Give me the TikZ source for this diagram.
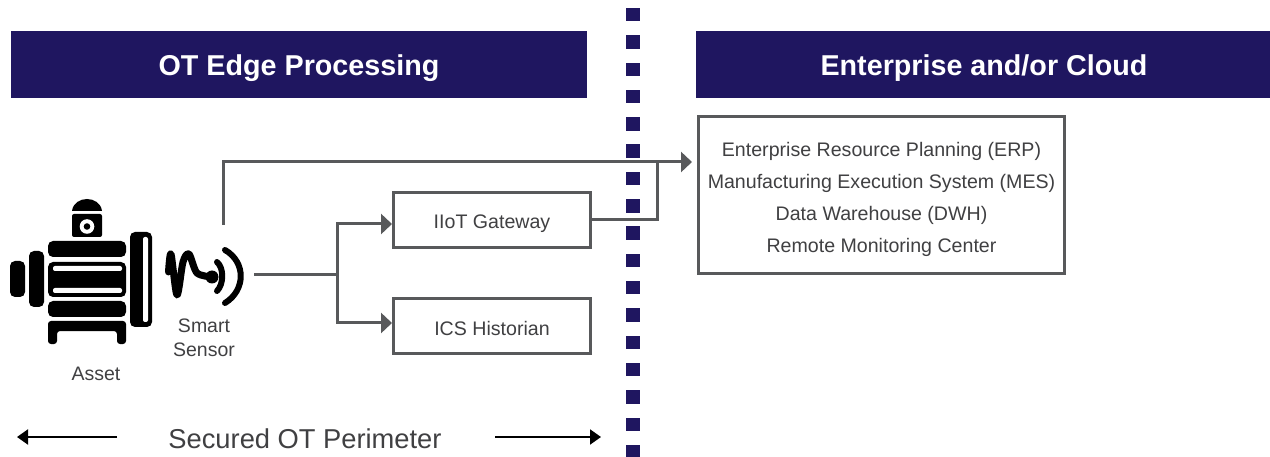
\documentclass[tikz,border=0pt]{standalone}
\usepackage{fontspec}
\setmainfont{Liberation Sans}
\usetikzlibrary{arrows.meta}
\definecolor{navy}{HTML}{1F1660}
\definecolor{wire}{HTML}{58595B}
\definecolor{ink}{HTML}{404042}
\begin{document}
\begin{tikzpicture}%
	[x=1pt, y=-1pt,
	header/.style={text=white, inner sep=0pt, font=\fontsize{28.7}{34}\selectfont\bfseries},
	sysbox/.style={draw=wire, line width=3pt, fill=white, text=ink, inner sep=0pt, align=center, font=\fontsize{19.6}{32}\selectfont},
	caption/.style={text=ink, inner sep=0pt, font=\fontsize{19.5}{24}\selectfont},
	wireline/.style={draw=wire, line width=3pt},
	wirearrow/.style={wireline, -{Triangle[length=11pt, width=20pt]}},
	perimeter/.style={draw=black, line width=2pt, -{Triangle[length=11pt, width=15pt]}},
	metal/.style={fill=black, rounded corners=5pt},
	slot/.style={fill=white, rounded corners=2pt},
	signal/.style={draw=black, line width=6pt, line cap=round, line join=round}]
	%
	\useasboundingbox (0,0) rectangle (1270,457);
	%
	%% Dotted boundary:
	%%
	\foreach \i in {0,...,16}
		\fill[navy] (626,8+27.3*\i) rectangle +(13.5,13.5);
	%%
	%% Headers:
	%%
	\fill[navy] (11,31) rectangle (587,98);
	\fill[navy] (696,31) rectangle (1270,98);
	\node[header] (edgehead) at (299,68) {OT Edge Processing};
	\node[header] (cloudhead) at (984,68) {Enterprise and/or Cloud};
	%%
	%% Boxes:
	%%
	\node[sysbox, minimum width=366pt, minimum height=157pt] (enterprise) at (881.5,195) {\rule{0pt}{22.5pt}Enterprise Resource Planning (ERP)\\Manufacturing Execution System (MES)\\Data Warehouse (DWH)\\Remote Monitoring Center};
	\node[sysbox, minimum width=197pt, minimum height=55pt] (gateway) at (492,220) {\rule{0pt}{22pt}IIoT Gateway};
	\node[sysbox, minimum width=197pt, minimum height=55pt] (historian) at (492,326) {\rule{0pt}{18.5pt}ICS Historian};
	%%
	%% Asset:
	%%
	\fill[metal] (48,241) rectangle (126,257);
	\fill[metal] (48,262) rectangle (126,297);
	\fill[slot] (53,266) rectangle (122,271);
	\fill[slot] (53,288) rectangle (122,293);
	\fill[metal] (48,301) rectangle (126,317);
	\fill[black, rounded corners=3pt] (48,344) -- (48,321) -- (126,321) -- (126,344) -- (117,344) -- (117,331) -- (57,331) -- (57,344) -- cycle;
	\fill[metal] (29,251) rectangle (44,307);
	\fill[metal] (10,261) rectangle (25,297);
	\fill[metal] (130,232) rectangle (152,327);
	\fill[slot] (143,237) rectangle (148,322);
	\fill[black, rounded corners=2pt] (72,214) rectangle (102,237);
	\fill[white] (87,226.5) circle (7.3);
	\fill[black] (87,226.5) circle (3.3);
	\fill[black] (72,211) .. controls (73,203) and (80,199) .. (87,199) .. controls (94,199) and (101,203) .. (102,211) -- cycle;
	%%
	%% Sensor:
	%%
	\draw[signal, line width=7pt] plot[smooth, tension=0.5] coordinates {(168.5,272) (171,254) (177,295) (183,262) (189,254) (197,273) (212,277)};
	\fill[black] (212,277) circle (6.5);
	\draw[signal] (217,262) .. controls (224,268) and (224,284) .. (217,291);
	\draw[signal] (225,250) .. controls (246,262) and (246,290) .. (225,303);
	%%
	%% Labels:
	%%
	\node[caption] (smart) at (204,326) {Smart};
	\node[caption] (sensor) at (204,350) {Sensor};
	\node[caption] (asset) at (96,374) {Asset};
	\node[text=ink, inner sep=0pt, font=\fontsize{27.3}{32}\selectfont] (secured) at (305,439) {Secured OT Perimeter};
	%%
	%% Connectors:
	%%
	\coordinate (sensorup) at (223,225);
	\coordinate (sensorout) at (254,275);
	\coordinate (branch) at (337,275);
	\coordinate (cloudin) at (692,162);
	\coordinate (perimleft) at (117,437);
	\coordinate (perimleftend) at (17,437);
	\coordinate (perimright) at (495,437);
	\coordinate (perimrightend) at (601,437);
	%%
	\draw[wirearrow] (sensorup) |- (cloudin);
	\draw[wireline] (gateway.east) -| (657,162);
	\draw[wireline] (sensorout) -- (branch);
	\draw[wirearrow] (branch) |- ([yshift=-4pt]gateway.west);
	\draw[wirearrow] (branch) |- ([yshift=3pt]historian.west);
	\draw[perimeter] (perimleft) -- (perimleftend);
	\draw[perimeter] (perimright) -- (perimrightend);
	%%
\end{tikzpicture}
\end{document}
